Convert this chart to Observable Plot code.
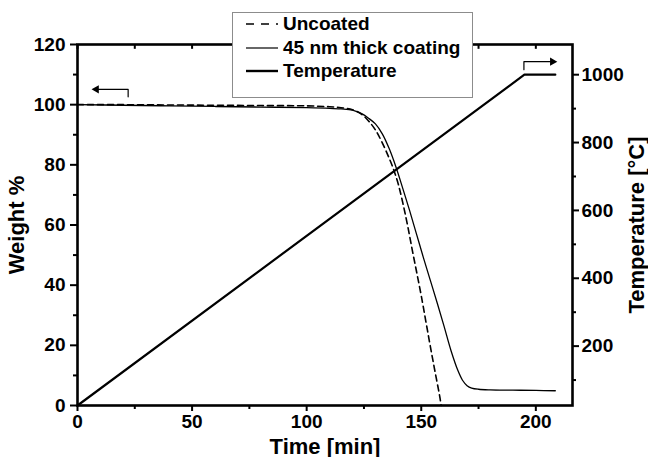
<!DOCTYPE html>
<html>
<head>
<meta charset="utf-8">
<script src="https://cdn.jsdelivr.net/npm/d3@7"></script>
<script src="https://cdn.jsdelivr.net/npm/@observablehq/plot@0.6"></script>
<style>
  html, body { margin: 0; padding: 0; background: white; }
  #wrap { position: relative; width: 648px; height: 457px; font-family: "Liberation Sans", Arial, sans-serif; }
  #legend { position: absolute; left: 232px; top: 12px; width: 239px; height: 84px; border: 1px solid #8c8c8c; background: white; box-sizing: content-box; }
  .row { position: absolute; left: 0; height: 24px; display: flex; align-items: center; font-weight: bold; font-size: 19px; color: #000; white-space: nowrap; }
  .row svg { margin-left: 13px; margin-right: 5px; }
</style>
</head>
<body>
<div id="wrap"></div>
<script>
// ---- data ----
const uncoatedTime = [0, 20, 40, 60, 80, 100, 110, 115, 120, 124, 127, 130, 133, 136, 138, 140, 142, 144, 146, 148, 150, 152, 154, 156, 158, 158.7];
const uncoatedWeight = [100, 100, 99.9, 99.8, 99.7, 99.6, 99.3, 99.0, 98.3, 96.8, 94.6, 91.6, 87.3, 82.2, 78.3, 73.5, 67.2, 60, 52, 44.3, 36.5, 28, 19.5, 11.3, 3.3, 0];

const coatedTime = [0, 20, 40, 60, 80, 100, 110, 115, 120, 124, 127, 130, 133, 136, 139, 142, 145, 148, 151, 154, 157, 160, 163, 166, 168, 170, 172, 175, 180, 190, 200, 208.5];
const coatedWeight = [100, 99.8, 99.6, 99.4, 99.2, 99.0, 98.8, 98.6, 98.2, 97.0, 95.5, 93.6, 90.3, 85.4, 79.2, 72.0, 64.6, 56.8, 49.0, 41.5, 34.0, 26.2, 18.2, 11.6, 8.4, 6.6, 5.8, 5.4, 5.2, 5.1, 5.0, 4.9];

const tempTime = [0, 195, 208.5];
const tempValue = [25, 1000, 1000];

const xMajor = [0, 50, 100, 150, 200];
const xMinor = [25, 75, 125, 175];
const yMajor = [0, 20, 40, 60, 80, 100, 120];
const yMinor = [10, 30, 50, 70, 90, 110];
const tempMajor = [200, 400, 600, 800, 1000];
const tempMinor = [100, 300, 500, 700, 900];
const tempDomain = [25, 1089];

// annotation arrows (time, weight)
const leftArrow = [[22.1, 102.6], [22.1, 105.1], [8.0, 105.1]];
const leftArrowHead = [[7.8, 105.1]];
const rightArrow = [[194.8, 111.6], [194.8, 114.3], [207.5, 114.3]];
const rightArrowHead = [[207.7, 114.3]];

const legendItems = [
  {label: "Uncoated", dash: "8,7", width: 1.5},
  {label: "45 nm thick coating", dash: null, width: 1.2},
  {label: "Temperature", dash: null, width: 2.4}
];

// ---- helpers ----
const toY = T => (T - tempDomain[0]) / (tempDomain[1] - tempDomain[0]) * 120;
const fromY = y => y / 120 * (tempDomain[1] - tempDomain[0]) + tempDomain[0];

const uncoated = uncoatedTime.map((t, i) => ({t, w: uncoatedWeight[i]}));
const coated = coatedTime.map((t, i) => ({t, w: coatedWeight[i]}));
const temp = tempTime.map((t, i) => ({t, w: toY(tempValue[i])}));

const bold = {fontSize: 19, fontWeight: "bold"};

const chart = Plot.plot({
  width: 648,
  height: 457,
  marginLeft: 77,
  marginRight: 76,
  marginTop: 44,
  marginBottom: 52,
  style: {fontFamily: "'Liberation Sans', Arial, sans-serif", background: "white", color: "black"},
  x: {domain: [0, 216]},
  y: {domain: [0, 120]},
  marks: [
    Plot.line(temp, {x: "t", y: "w", stroke: "black", strokeWidth: 2.2}),
    Plot.line(coated, {x: "t", y: "w", stroke: "black", strokeWidth: 1.3, curve: "catmull-rom"}),
    Plot.line(uncoated, {x: "t", y: "w", stroke: "black", strokeWidth: 1.6, strokeDasharray: "6,4", curve: "catmull-rom"}),
    Plot.line(leftArrow, {x: d => d[0], y: d => d[1], stroke: "black", strokeWidth: 1.2}),
    Plot.dot(leftArrowHead, {x: d => d[0], y: d => d[1], symbol: "triangle2", r: 4, fill: "black", rotate: -90, dx: 1}),
    Plot.line(rightArrow, {x: d => d[0], y: d => d[1], stroke: "black", strokeWidth: 1.2}),
    Plot.dot(rightArrowHead, {x: d => d[0], y: d => d[1], symbol: "triangle2", r: 4, fill: "black", rotate: 90, dx: -1}),
    Plot.frame({stroke: "black", strokeWidth: 2.6}),
    Plot.ruleX(xMajor.concat(xMinor), {y1: 120, y2: 118.4, stroke: "black", strokeWidth: 2}),
    Plot.axisX(xMajor, {tickSize: 6, strokeWidth: 2, tickPadding: 3, label: null, ...bold}),
    Plot.axisX(xMinor, {tickSize: 4, strokeWidth: 2, tickFormat: () => "", label: null}),
    Plot.axisX([], {label: "Time [min]", labelAnchor: "center", labelArrow: "none", labelOffset: 48, tickSize: 0, fontSize: 22, fontWeight: "bold"}),
    Plot.axisY(yMajor, {tickSize: 7, strokeWidth: 2, tickPadding: 5, label: null, ...bold}),
    Plot.axisY(yMinor, {tickSize: 4, strokeWidth: 2, tickFormat: () => "", label: null}),
    Plot.axisY([], {label: "Weight %", labelAnchor: "center", labelArrow: "none", labelOffset: 69, tickSize: 0, fontSize: 22, fontWeight: "bold"}),
    Plot.axisY(tempMajor.map(toY), {anchor: "right", tickSize: 6, strokeWidth: 2, tickPadding: 3, tickFormat: y => String(Math.round(fromY(y))), label: null, ...bold}),
    Plot.axisY(tempMinor.map(toY), {anchor: "right", tickSize: 3, strokeWidth: 2, tickFormat: () => "", label: null}),
    Plot.axisY([], {anchor: "right", label: "Temperature [°C]", labelAnchor: "center", labelArrow: "none", labelOffset: 71, tickSize: 0, fontSize: 22, fontWeight: "bold"})
  ]
});

const wrap = document.getElementById("wrap");
wrap.appendChild(chart);

// legend overlay
const legend = document.createElement("div");
legend.id = "legend";
legendItems.forEach((item, i) => {
  const row = document.createElement("div");
  row.className = "row";
  row.style.top = (i * 23.5 - 1) + "px";
  const svg = d3.create("svg").attr("width", 32).attr("height", 6);
  svg.append("line").attr("x1", 0).attr("x2", 32).attr("y1", 3).attr("y2", 3)
    .attr("stroke", "black").attr("stroke-width", item.width)
    .attr("stroke-dasharray", item.dash);
  row.appendChild(svg.node());
  const span = document.createElement("span");
  span.textContent = item.label;
  row.appendChild(span);
  legend.appendChild(row);
});
wrap.appendChild(legend);
</script>
</body>
</html>
